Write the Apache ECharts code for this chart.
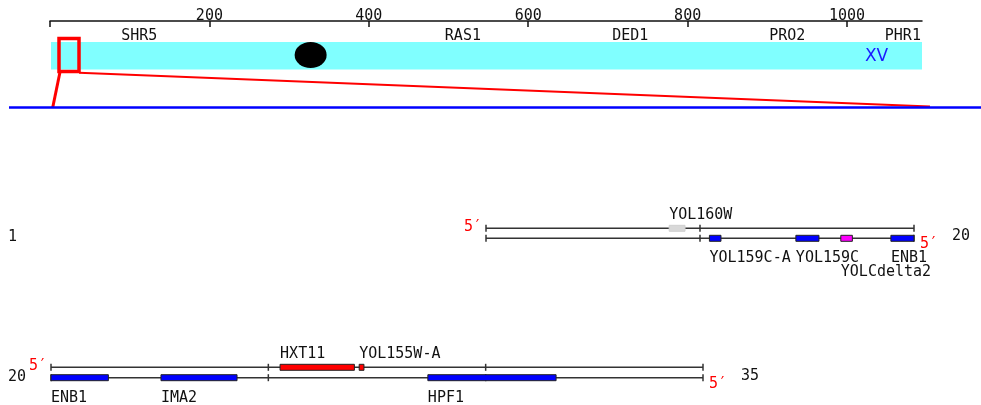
<!DOCTYPE html>
<html><head><meta charset="utf-8">
<script src="https://cdn.jsdelivr.net/npm/echarts@6/dist/echarts.min.js"></script>
<style>html,body{margin:0;padding:0;background:#fff}#c{width:981px;height:405px}</style>
</head><body><div id="c"></div>
<script>
// ---------- overview (chromosome XV, kb) ----------
const overviewTickValues = [0, 200, 400, 600, 800, 1000];
const chromosomeLengthKb = 1094;
const chromosomeName = 'XV';
const chromosomeNameKb = 1037;
const overviewGeneNames = ['SHR5', 'RAS1', 'DED1', 'PRO2', 'PHR1'];
const overviewGeneKb = [112, 518, 728, 925, 1070];
const centromereKb = 327;
const viewWindowKb = [11.3, 36.4];
const funnelEndKb = [3.4, 1104];

// ---------- detail rows (kb) ----------
const rowRangesKb = [[10, 20], [20, 35]];
const rowStartLabels = ['1', '20'];
const rowEndLabels = ['20', '35'];
const rowTickKb = [[10, 15, 20], [20, 25, 30, 35]];

const row1Names = ['YOL160W', 'YOL159C-A', 'YOL159C', 'YOLCdelta2', 'ENB1'];
const row1Start = [14.28, 15.22, 17.24, 18.29, 19.46];
const row1End = [14.65, 15.49, 17.78, 18.56, 20.0];
const row1Strand = ['W', 'C', 'C', 'C', 'C'];
const row1Type = ['dubious', 'orfC', 'orfC', 'ltr', 'orfC'];
const row1LabelLine = [0, 0, 0, 1, 0];

const row2Names = ['ENB1', 'IMA2', 'HXT11', 'YOL155W-A', 'HPF1'];
const row2Start = [20.0, 22.53, 25.27, 27.09, 28.67];
const row2End = [21.32, 24.28, 26.98, 27.2, 31.62];
const row2Strand = ['C', 'C', 'W', 'W', 'C'];
const row2Type = ['orfC', 'orfC', 'orfW', 'orfW', 'orfC'];
const row2LabelLine = [0, 0, 0, 0, 0];

// ---------- styles ----------
const FONT = '15px "DejaVu Sans Mono", monospace';
const TXT = '#111';
const LINE = '#333';
const typeFill = { orfC: '#0000ff', orfW: '#ff0000', dubious: '#d8d8d8', ltr: '#ff00ff' };
const typeStroke = { orfC: '#222', orfW: '#222', dubious: '#d0d0d0', ltr: '#222' };

const chart = echarts.init(document.getElementById('c'), null, { renderer: 'canvas' });

function strandVal(s) { return s === 'W' ? 1 : 0; }

function buildFeatures(names, st, en, strand) {
  return names.map((n, i) => [st[i], en[i], strandVal(strand[i]), i]);
}

function featureRenderer(names, strand, type, ll) {
  return function (params, api) {
    const i = api.value(3);
    const s = api.value(2);
    const p0 = api.coord([api.value(0), s]);
    const p1 = api.coord([api.value(1), s]);
    const t = type[i];
    const children = [{
      type: 'rect', z2: 10,
      shape: { x: p0[0], y: p0[1] - 3, width: Math.max(p1[0] - p0[0], 3), height: 6 },
      style: { fill: typeFill[t], stroke: typeStroke[t], lineWidth: 1 }
    }];
    const ly = s === 1 ? p0[1] - 13 : p0[1] + 20 + 14 * ll[i];
    children.push({
      type: 'text', x: p0[0], y: ly,
      style: { text: names[i], fill: TXT, font: FONT, align: 'left', verticalAlign: 'middle' }
    });
    return { type: 'group', children };
  };
}

function strandRenderer(params, api) {
  const a = api.value(0), b = api.value(1);
  const t0 = api.coord([a, 1]), t1 = api.coord([b, 1]);
  const b0 = api.coord([a, 0]), b1 = api.coord([b, 0]);
  return { type: 'group', children: [
    { type: 'line', shape: { x1: t0[0], y1: t0[1], x2: t1[0], y2: t1[1] }, style: { stroke: LINE, lineWidth: 1.5 } },
    { type: 'line', shape: { x1: b0[0], y1: b0[1], x2: b1[0], y2: b1[1] }, style: { stroke: LINE, lineWidth: 1.5 } }
  ] };
}

function tickRenderer(params, api) {
  const v = api.value(0);
  const t = api.coord([v, 1]), b = api.coord([v, 0]);
  return { type: 'group', children: [
    { type: 'line', shape: { x1: t[0], y1: t[1] - 3.5, x2: t[0], y2: t[1] + 3.5 }, style: { stroke: LINE, lineWidth: 1.5 } },
    { type: 'line', shape: { x1: b[0], y1: b[1] - 3.5, x2: b[0], y2: b[1] + 3.5 }, style: { stroke: LINE, lineWidth: 1.5 } }
  ] };
}

function endsRenderer(startLabel, endLabel) {
  return function (params, api) {
    const a = api.value(0), b = api.value(1);
    const t0 = api.coord([a, 1]);
    const b1 = api.coord([b, 0]);
    return { type: 'group', children: [
      { type: 'text', x: t0[0] - 4, y: t0[1] - 1.5, style: { text: '5\u2032', fill: '#ff0000', font: FONT, align: 'right', verticalAlign: 'middle' } },
      { type: 'text', x: b1[0] + 6, y: b1[1] + 6, style: { text: '5\u2032', fill: '#ff0000', font: FONT, align: 'left', verticalAlign: 'middle' } },
      { type: 'text', x: b1[0] + 38, y: b1[1] - 2, style: { text: endLabel, fill: TXT, font: FONT, align: 'left', verticalAlign: 'middle' } },
      { type: 'text', x: 8, y: b1[1] - 1, style: { text: startLabel, fill: TXT, font: FONT, align: 'left', verticalAlign: 'middle' } }
    ] };
  };
}

// overview renderers
function bandRenderer(params, api) {
  const gy = params.coordSys.y;
  const p0 = api.coord([api.value(0), 0]), p1 = api.coord([api.value(1), 0]);
  return { type: 'rect', shape: { x: p0[0] + 1, y: gy + 21, width: p1[0] - p0[0] - 1, height: 27.5 }, style: { fill: '#80ffff' } };
}
function centromereRenderer(params, api) {
  const gy = params.coordSys.y;
  const p = api.coord([api.value(0), 0]);
  return { type: 'circle', x: p[0], y: gy + 34, scaleX: 16 / 13, scaleY: 1, shape: { cx: 0, cy: 0, r: 13 }, style: { fill: '#000' } };
}
function windowRenderer(params, api) {
  const gy = params.coordSys.y;
  const p0 = api.coord([api.value(0), 0]), p1 = api.coord([api.value(1), 0]);
  const f0 = api.coord([api.value(2), 0]), f1 = api.coord([api.value(3), 0]);
  return { type: 'group', children: [
    { type: 'polyline', shape: { points: [[p0[0] + 1, gy + 51], [f0[0], gy + 86.5]] }, style: { stroke: '#ff0000', lineWidth: 3, fill: null } },
    { type: 'polyline', shape: { points: [[p1[0], gy + 51.8], [f1[0], gy + 85.5]] }, style: { stroke: '#ff0000', lineWidth: 2, fill: null } },
    { type: 'rect', shape: { x: p0[0], y: gy + 17.5, width: p1[0] - p0[0], height: 33 }, style: { stroke: '#ff0000', lineWidth: 3.5, fill: null } }
  ] };
}
function geneLabelRenderer(params, api) {
  const gy = params.coordSys.y;
  const p = api.coord([api.value(0), 0]);
  return { type: 'text', x: p[0], y: gy + 15, style: { text: overviewGeneNames[params.dataIndex], fill: TXT, font: FONT, align: 'center', verticalAlign: 'middle' } };
}
function chromNameRenderer(params, api) {
  const gy = params.coordSys.y;
  const p = api.coord([api.value(0), 0]);
  return { type: 'text', x: p[0], y: gy + 35.5, style: { text: chromosomeName, fill: '#1a1aff', font: '17px "DejaVu Sans", sans-serif', align: 'center', verticalAlign: 'middle' } };
}

const option = {
  animation: false,
  backgroundColor: '#fff',
  grid: [
    { left: 50, width: 872, top: 21, height: 87, show: false },
    { left: 486, width: 428, top: 228.3, height: 10, show: false },
    { left: 51, width: 652, top: 367.3, height: 10.4, show: false }
  ],
  xAxis: [
    {
      gridIndex: 0, type: 'value', position: 'top', min: 0, max: chromosomeLengthKb, interval: 200,
      axisLine: { show: true, onZero: false, lineStyle: { color: '#111', width: 1.5 } },
      axisTick: { show: true, inside: true, length: 6, lineStyle: { color: '#111', width: 1.5 } },
      axisLabel: {
        show: true, margin: -3, color: TXT, fontFamily: '"DejaVu Sans Mono", monospace', fontSize: 15,
        showMaxLabel: false,
        formatter: v => (overviewTickValues.indexOf(v) > 0 ? String(v) : '')
      },
      splitLine: { show: false }
    },
    { gridIndex: 1, type: 'value', min: rowRangesKb[0][0], max: rowRangesKb[0][1], show: false },
    { gridIndex: 2, type: 'value', min: rowRangesKb[1][0], max: rowRangesKb[1][1], show: false }
  ],
  yAxis: [
    { gridIndex: 0, type: 'value', min: 0, max: 1, show: false },
    { gridIndex: 1, type: 'value', min: 0, max: 1, show: false },
    { gridIndex: 2, type: 'value', min: 0, max: 1, show: false }
  ],
  graphic: [
    { type: 'line', z: 10, shape: { x1: 9, y1: 107.5, x2: 981, y2: 107.5 }, style: { stroke: '#0000ff', lineWidth: 2.5 } }
  ],
  series: [
    { type: 'custom', xAxisIndex: 0, yAxisIndex: 0, clip: false, renderItem: bandRenderer, data: [[0, chromosomeLengthKb]], z: 1 },
    { type: 'custom', xAxisIndex: 0, yAxisIndex: 0, clip: false, renderItem: centromereRenderer, data: [[centromereKb]], z: 2 },
    { type: 'custom', xAxisIndex: 0, yAxisIndex: 0, clip: false, renderItem: chromNameRenderer, data: [[chromosomeNameKb]], z: 2 },
    { type: 'custom', xAxisIndex: 0, yAxisIndex: 0, clip: false, renderItem: geneLabelRenderer, data: overviewGeneKb.map(v => [v]), z: 2 },
    { type: 'custom', xAxisIndex: 0, yAxisIndex: 0, clip: false, renderItem: windowRenderer, data: [[viewWindowKb[0], viewWindowKb[1], funnelEndKb[0], funnelEndKb[1]]], z: 3 },

    { type: 'custom', xAxisIndex: 1, yAxisIndex: 1, clip: false, z: 1, renderItem: strandRenderer, data: [rowRangesKb[0]] },
    { type: 'custom', xAxisIndex: 1, yAxisIndex: 1, clip: false, z: 1, renderItem: tickRenderer, data: rowTickKb[0].map(v => [v]) },
    { type: 'custom', xAxisIndex: 1, yAxisIndex: 1, clip: false, z: 2, renderItem: endsRenderer(rowStartLabels[0], rowEndLabels[0]), data: [rowRangesKb[0]] },
    { type: 'custom', xAxisIndex: 1, yAxisIndex: 1, clip: false, z: 5, zlevel: 1,
      renderItem: featureRenderer(row1Names, row1Strand, row1Type, row1LabelLine),
      data: buildFeatures(row1Names, row1Start, row1End, row1Strand) },

    { type: 'custom', xAxisIndex: 2, yAxisIndex: 2, clip: false, z: 1, renderItem: strandRenderer, data: [rowRangesKb[1]] },
    { type: 'custom', xAxisIndex: 2, yAxisIndex: 2, clip: false, z: 1, renderItem: tickRenderer, data: rowTickKb[1].map(v => [v]) },
    { type: 'custom', xAxisIndex: 2, yAxisIndex: 2, clip: false, z: 2, renderItem: endsRenderer(rowStartLabels[1], rowEndLabels[1]), data: [rowRangesKb[1]] },
    { type: 'custom', xAxisIndex: 2, yAxisIndex: 2, clip: false, z: 5, zlevel: 1,
      renderItem: featureRenderer(row2Names, row2Strand, row2Type, row2LabelLine),
      data: buildFeatures(row2Names, row2Start, row2End, row2Strand) }
  ]
};
chart.setOption(option);
</script></body></html>
